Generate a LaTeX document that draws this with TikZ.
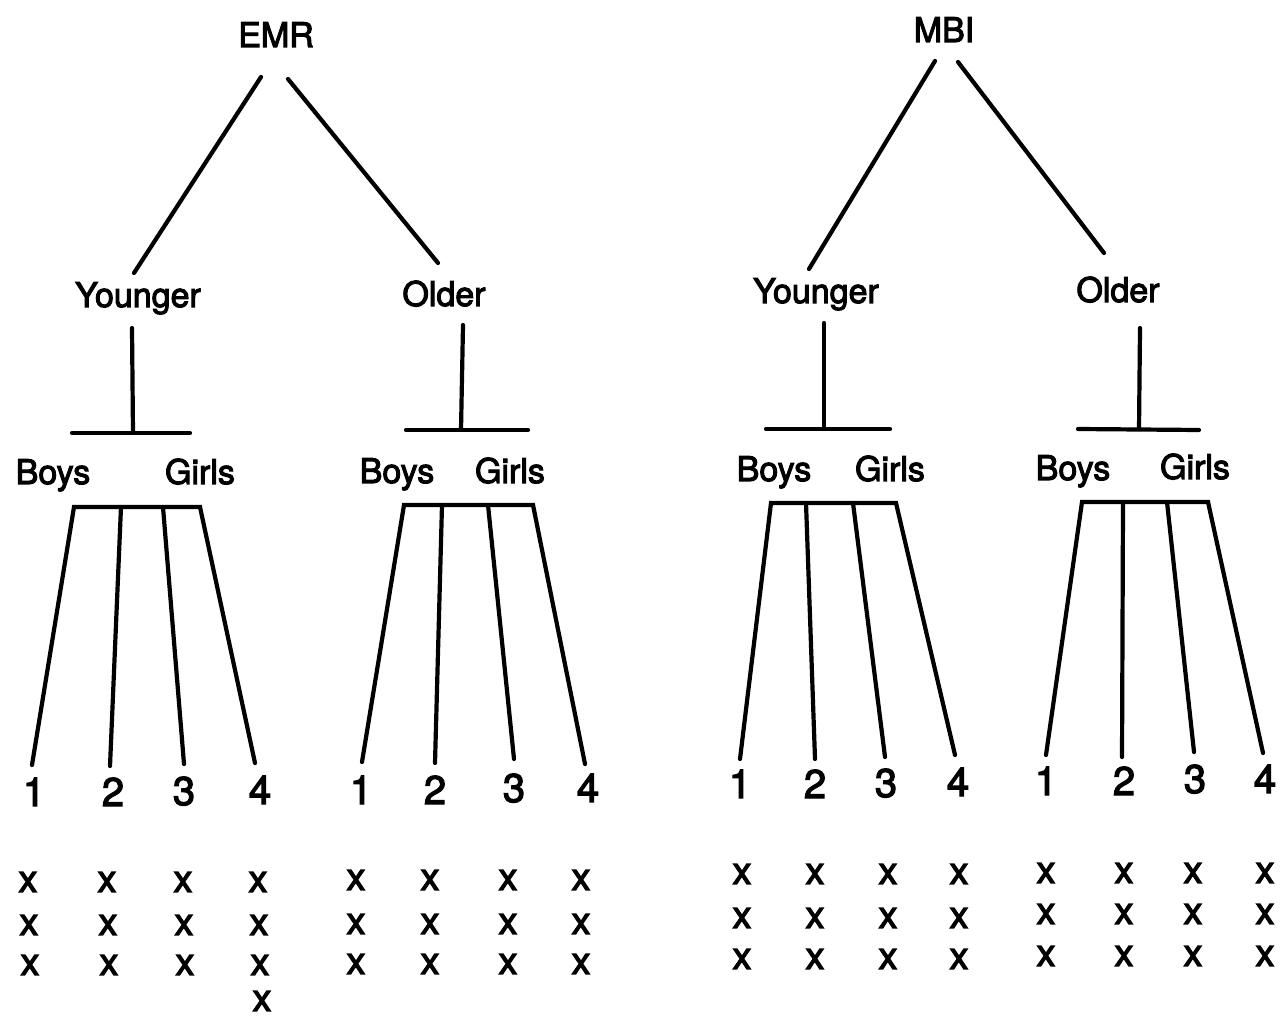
\documentclass[tikz,border=0pt]{standalone}
\usepackage{fontspec}
\setmainfont{TeX Gyre Heros}
\newfontfamily\heavyfont[FakeBold=3]{TeX Gyre Heros}
\begin{document}
\begin{tikzpicture}[x=0.5pt,y=-0.5pt,
  link/.style={line width=2.1pt,line cap=round,line join=miter},
  lbl/.style={font=\heavyfont\fontsize{17}{20}\selectfont,inner sep=0pt,anchor=base},
  num/.style={font=\heavyfont\fontsize{20}{24}\selectfont,inner sep=0pt,anchor=base},
  cross/.style={font=\heavyfont\fontsize{19}{22}\selectfont,inner sep=0pt,anchor=center}]
\useasboundingbox (0,0) rectangle (1283,1020);

% ---------- root labels ----------
\node[lbl] (emr) at (276,47) {EMR};
\node[lbl] (mbi) at (944,42) {MBI};

% ---------- age labels ----------
\node[lbl] (eY) at (138,307) {Younger};
\node[lbl] (eO) at (444,306) {Older};
\node[lbl] (mY) at (816,303) {Younger};
\node[lbl] (mO) at (1118,302) {Older};

% ---------- sex labels ----------
\node[lbl] (eYb) at (53,484) {Boys};
\node[lbl] (eYg) at (200,484) {Girls};
\node[lbl] (eOb) at (397,483) {Boys};
\node[lbl] (eOg) at (510,483) {Girls};
\node[lbl] (mYb) at (774,481) {Boys};
\node[lbl] (mYg) at (890,481) {Girls};
\node[lbl] (mOb) at (1073,480) {Boys};
\node[lbl] (mOg) at (1195,479) {Girls};

% ---------- group numbers ----------
\node[num] (eY1) at (34,806) {1};
\node[num] (eY2) at (113,806) {2};
\node[num] (eY3) at (184,805) {3};
\node[num] (eY4) at (260,804) {4};
\node[num] (eO1) at (361,804) {1};
\node[num] (eO2) at (435,804) {2};
\node[num] (eO3) at (514,802) {3};
\node[num] (eO4) at (588,802) {4};
\node[num] (mY1) at (740,798) {1};
\node[num] (mY2) at (815,798) {2};
\node[num] (mY3) at (886,797) {3};
\node[num] (mY4) at (958,796) {4};
\node[num] (mO1) at (1046,795) {1};
\node[num] (mO2) at (1124,795) {2};
\node[num] (mO3) at (1195,793) {3};
\node[num] (mO4) at (1265,793) {4};

% ---------- root branches ----------
\coordinate (emrL) at (261,77);  \coordinate (eYtop) at (134,273);
\coordinate (emrR) at (288,79);  \coordinate (eOtop) at (438,263);
\coordinate (mbiL) at (935,61);  \coordinate (mYtop) at (809,269);
\coordinate (mbiR) at (958,62);  \coordinate (mOtop) at (1104,253);
\draw[link] (emrL) -- (eYtop);
\draw[link] (emrR) -- (eOtop);
\draw[link] (mbiL) -- (mYtop);
\draw[link] (mbiR) -- (mOtop);

% ---------- T junctions under the age labels ----------
\coordinate (eYv1) at (132,328); \coordinate (eYv2) at (133,433);
\coordinate (eYh1) at (72,433);  \coordinate (eYh2) at (190,433);
\coordinate (eOv1) at (463,325); \coordinate (eOv2) at (461,430);
\coordinate (eOh1) at (406,430); \coordinate (eOh2) at (528,430);
\coordinate (mYv1) at (824,323); \coordinate (mYv2) at (824,429);
\coordinate (mYh1) at (766,429); \coordinate (mYh2) at (890,429);
\coordinate (mOv1) at (1140,328); \coordinate (mOv2) at (1139,429);
\coordinate (mOh1) at (1078,429); \coordinate (mOh2) at (1199,430);
\foreach \g in {eY,eO,mY,mO}{
  \draw[link] (\g v1) -- (\g v2);
  \draw[link] (\g h1) -- (\g h2);
}

% ---------- forks down to the numbered groups ----------
\coordinate (eYf1) at (74,507);  \coordinate (eYf2) at (121,507);
\coordinate (eYf3) at (163,507); \coordinate (eYf4) at (200,507);
\coordinate (eYe1) at (32,765);  \coordinate (eYe2) at (110,766);
\coordinate (eYe3) at (184,764); \coordinate (eYe4) at (255,763);

\coordinate (eOf1) at (404,505); \coordinate (eOf2) at (442,505);
\coordinate (eOf3) at (488,505); \coordinate (eOf4) at (533,505);
\coordinate (eOe1) at (362,762); \coordinate (eOe2) at (435,763);
\coordinate (eOe3) at (514,759); \coordinate (eOe4) at (585,764);

\coordinate (mYf1) at (771,503); \coordinate (mYf2) at (806,503);
\coordinate (mYf3) at (853,503); \coordinate (mYf4) at (896,503);
\coordinate (mYe1) at (740,759); \coordinate (mYe2) at (815,759);
\coordinate (mYe3) at (885,757); \coordinate (mYe4) at (955,755);

\coordinate (mOf1) at (1082,502); \coordinate (mOf2) at (1123,502);
\coordinate (mOf3) at (1167,502); \coordinate (mOf4) at (1208,502);
\coordinate (mOe1) at (1046,755); \coordinate (mOe2) at (1122,757);
\coordinate (mOe3) at (1194,752); \coordinate (mOe4) at (1263,753);

\foreach \g in {eY,eO,mY,mO}{
  \draw[link] (\g e1) -- (\g f1) -- (\g f4) -- (\g e4);
  \draw[link] (\g f2) -- (\g e2);
  \draw[link] (\g f3) -- (\g e3);
}

% ---------- subject marks ----------
\foreach \c/\x in {1/27,2/106,3/182,4/257}
  \foreach \r/\y in {1/882,2/925,3/965}
    \node[cross] (eYx\c\r) at (\x+\r,\y) {x};
\node[cross] (eYx44) at (262,1001) {x};

\foreach \c/\x in {1/356,2/430,3/508,4/581}
  \foreach \r/\y in {1/880,2/924,3/964}
    \node[cross] (eOx\c\r) at (\x,\y) {x};

\foreach \c/\x in {1/742,2/815,3/888,4/959}
  \foreach \r/\y in {1/874,2/918,3/959}
    \node[cross] (mYx\c\r) at (\x,\y) {x};

\foreach \c/\x in {1/1046,2/1124,3/1193,4/1265}
  \foreach \r/\y in {1/873,2/914,3/956}
    \node[cross] (mOx\c\r) at (\x,\y) {x};
\end{tikzpicture}
\end{document}
